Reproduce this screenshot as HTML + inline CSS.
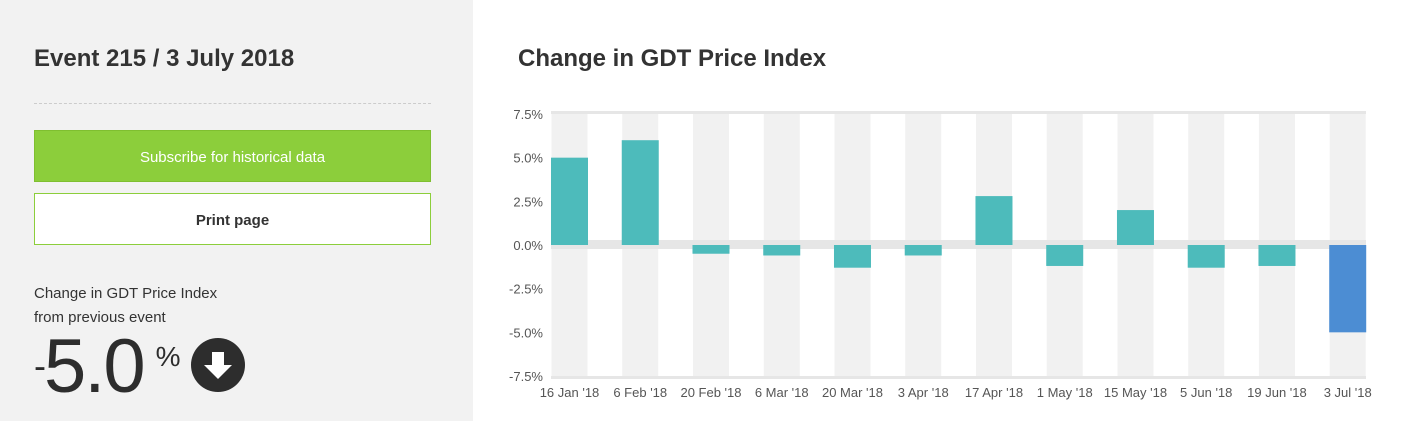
<!DOCTYPE html>
<html><head><meta charset="utf-8"><style>
*{margin:0;padding:0;box-sizing:border-box}
body{width:1426px;height:421px;overflow:hidden;background:#fff;font-family:"Liberation Sans",sans-serif;position:relative;color:#333}
#left{position:absolute;left:0;top:0;width:473px;height:421px;background:#f2f2f2}
.abs{position:absolute}
</style></head><body>
<div id="left">
<div class="abs" style="left:34px;top:45px;font-size:24px;font-weight:bold;color:#333">Event 215 / 3 July 2018</div>
<div class="abs" style="left:34px;top:103px;width:397px;border-top:1px dashed #ccc"></div>
<div class="abs" style="left:34px;top:130px;width:397px;height:52px;background:#8cce3b;border:1px solid #7fbf30;color:#fff;font-size:15px;line-height:54px;text-align:center">Subscribe for historical data</div>
<div class="abs" style="left:34px;top:193px;width:397px;height:52px;background:#fff;border:1px solid #8cce3b;color:#333;font-size:15px;font-weight:bold;line-height:54px;text-align:center">Print page</div>
<div class="abs" style="left:34px;top:282px;font-size:15px;line-height:24px;color:#333">Change in GDT Price Index<br>from previous event</div>
<div class="abs" style="left:34px;top:317px;font-size:76px;line-height:80px;color:#2d2d2d;letter-spacing:-2px"><span style="font-size:36px;vertical-align:14px">-</span>5.0<span style="font-size:28px;vertical-align:26px;margin-left:12px">%</span></div>
<svg class="abs" style="left:190px;top:337px" width="56" height="56"><circle cx="28" cy="28" r="27" fill="#2d2d2d"/><path d="M22 15h12v13h8l-14 14-14-14h8z" fill="#fff"/></svg>
</div>
<div class="abs" style="left:518px;top:45px;font-size:24px;font-weight:bold;color:#333">Change in GDT Price Index</div>
<svg id="chart" class="abs" style="left:0;top:0" width="1426" height="421"></svg>
<script>
const categories=["16 Jan '18","6 Feb '18","20 Feb '18","6 Mar '18","20 Mar '18","3 Apr '18","17 Apr '18","1 May '18","15 May '18","5 Jun '18","19 Jun '18","3 Jul '18"];
const values=[5.0,6.0,-0.5,-0.6,-1.3,-0.6,2.8,-1.2,2.0,-1.3,-1.2,-5.0];
const ticks=[7.5,5.0,2.5,0,-2.5,-5.0,-7.5];
const tickLabels=["7.5%","5.0%","2.5%","0.0%","-2.5%","-5.0%","-7.5%"];
const svg=document.getElementById('chart');
const NS='http://www.w3.org/2000/svg';
const top0=114,bot0=376,left0=551,right0=1366;
const y=v=>top0+(7.5-v)/15*(bot0-top0);
const step=(right0-left0)/ (categories.length-0.48);
const cx=i=>left0+18.5+i*step;
function mk(t,a){const e=document.createElementNS(NS,t);for(const k in a)e.setAttribute(k,a[k]);svg.appendChild(e);return e;}
categories.forEach((c,i)=>{const b=mk('rect',{x:cx(i)-18,y:top0,width:36,height:bot0-top0,fill:'#f1f1f1'});

});
let l=mk('rect',{x:left0,y:111,width:right0-left0,height:3,fill:'#e6e6e6'});


l=mk('rect',{x:left0,y:376,width:right0-left0,height:3,fill:'#e6e6e6'});


l=mk('rect',{x:left0,y:y(0)-5,width:right0-left0,height:9,fill:'#e6e6e6'});


ticks.forEach((t,i)=>{const e=mk('text',{x:543,y:y(t)+5,'text-anchor':'end','font-size':13,fill:'#555','font-family':'Liberation Sans, sans-serif'});e.textContent=tickLabels[i];

});
values.forEach((v,i)=>{const y1=Math.min(y(v),y(0)),h=Math.abs(y(v)-y(0));
const r=mk('rect',{x:cx(i)-18.5,y:y1,width:37,height:h,fill:i==values.length-1?'#4c8dd3':'#4dbbbb'});

});
categories.forEach((c,i)=>{const e=mk('text',{x:cx(i),y:397,'text-anchor':'middle','font-size':13,fill:'#555','font-family':'Liberation Sans, sans-serif'});e.textContent=c;

});
</script>
</body></html>
